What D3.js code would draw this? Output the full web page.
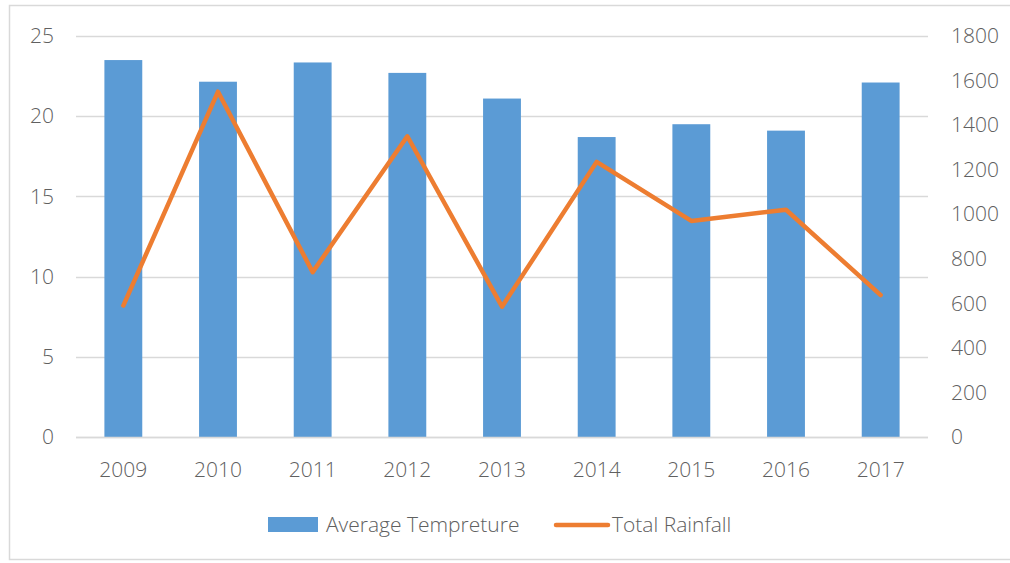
<!DOCTYPE html>
<html>
<head>
<meta charset="utf-8">
<script src="https://cdn.jsdelivr.net/npm/d3@7"></script>
<style>
  html, body { margin: 0; padding: 0; background: #fff; }
  svg { display: block; }
  svg text { font-family: "Open Sans", "Liberation Sans", sans-serif; font-weight: 300; font-size: 21px; fill: #606060; }
</style>
</head>
<body>
<svg id="chart" width="1010" height="563"></svg>
<script>
// Yearly averages and totals
const years = ["2009", "2010", "2011", "2012", "2013", "2014", "2015", "2016", "2017"];
const avgTemperature = [23.5, 22.15, 23.35, 22.7, 21.1, 18.7, 19.5, 19.1, 22.1];
const totalRainfall = [590, 1550, 740, 1350, 585, 1235, 970, 1020, 637];
const leftTicks = [0, 5, 10, 15, 20, 25];
const rightTicks = [0, 200, 400, 600, 800, 1000, 1200, 1400, 1600, 1800];
const seriesNames = ["Average Tempreture", "Total Rainfall"];

const svg = d3.select("#chart");
const gridColor = "#d9d9d9";
const barColor = "#5b9bd5";
const lineColor = "#ed7d31";

// chart frame
svg.append("rect")
  .attr("x", 9.5).attr("y", 5.5)
  .attr("width", 1010).attr("height", 554)
  .attr("fill", "none").attr("stroke", "#d9d9d9").attr("stroke-width", 1.5);

const plot = { left: 76, right: 928, top: 36, bottom: 437 };

const x = d3.scaleBand().domain(years).range([plot.left, plot.right]).paddingInner(0.6).paddingOuter(0.3);
const yL = d3.scaleLinear().domain([0, 25]).range([plot.bottom, plot.top]);
const yR = d3.scaleLinear().domain([0, 1800]).range([plot.bottom, plot.top]);

// horizontal gridlines
svg.append("g").selectAll("line").data(leftTicks).join("line")
  .attr("x1", plot.left).attr("x2", plot.right)
  .attr("y1", d => Math.round(yL(d)) + 0.5).attr("y2", d => Math.round(yL(d)) + 0.5)
  .attr("stroke", gridColor).attr("stroke-width", 1.5);

// axis groups: drop d3's default font attributes so the stylesheet applies
function cleanAxis(g) {
  g.attr("font-family", null).attr("font-size", null);
  g.select(".domain").remove();
  g.selectAll("text").attr("fill", null);
}

// left axis
svg.append("g")
  .attr("transform", `translate(${plot.left - 22},0)`)
  .call(d3.axisLeft(yL).tickValues(leftTicks).tickSize(0).tickPadding(0))
  .call(cleanAxis);

// right axis
svg.append("g")
  .attr("transform", `translate(${plot.right + 23},0)`)
  .call(d3.axisRight(yR).tickValues(rightTicks).tickFormat(d3.format("d")).tickSize(0).tickPadding(0))
  .call(cleanAxis);

// bars
svg.append("g").selectAll("rect").data(years).join("rect")
  .attr("x", d => x(d))
  .attr("width", x.bandwidth())
  .attr("y", (d, i) => yL(avgTemperature[i]))
  .attr("height", (d, i) => yL(0) - yL(avgTemperature[i]))
  .attr("fill", barColor);

// baseline
svg.append("line")
  .attr("x1", plot.left).attr("x2", plot.right)
  .attr("y1", plot.bottom + 0.5).attr("y2", plot.bottom + 0.5)
  .attr("stroke", gridColor).attr("stroke-width", 1.5);

// rainfall line
const line = d3.line()
  .x((d, i) => x(years[i]) + x.bandwidth() / 2)
  .y(d => yR(d));
svg.append("path")
  .datum(totalRainfall)
  .attr("d", line)
  .attr("fill", "none")
  .attr("stroke", lineColor)
  .attr("stroke-width", 4.5)
  .attr("stroke-linejoin", "round")
  .attr("stroke-linecap", "round");

// category axis
svg.append("g")
  .attr("transform", `translate(0,${plot.bottom + 25})`)
  .call(d3.axisBottom(x).tickSize(0).tickPadding(0))
  .call(cleanAxis);

// legend
const legend = svg.append("g");
legend.append("rect").attr("x", 268).attr("y", 517).attr("width", 50).attr("height", 15).attr("fill", barColor);
legend.append("text").attr("x", 326).attr("y", 525).attr("dy", "0.35em").text(seriesNames[0]);
legend.append("line").attr("x1", 556).attr("x2", 608).attr("y1", 525).attr("y2", 525)
  .attr("stroke", lineColor).attr("stroke-width", 4.5).attr("stroke-linecap", "round");
legend.append("text").attr("x", 612).attr("y", 525).attr("dy", "0.35em").text(seriesNames[1]);
</script>
</body>
</html>
